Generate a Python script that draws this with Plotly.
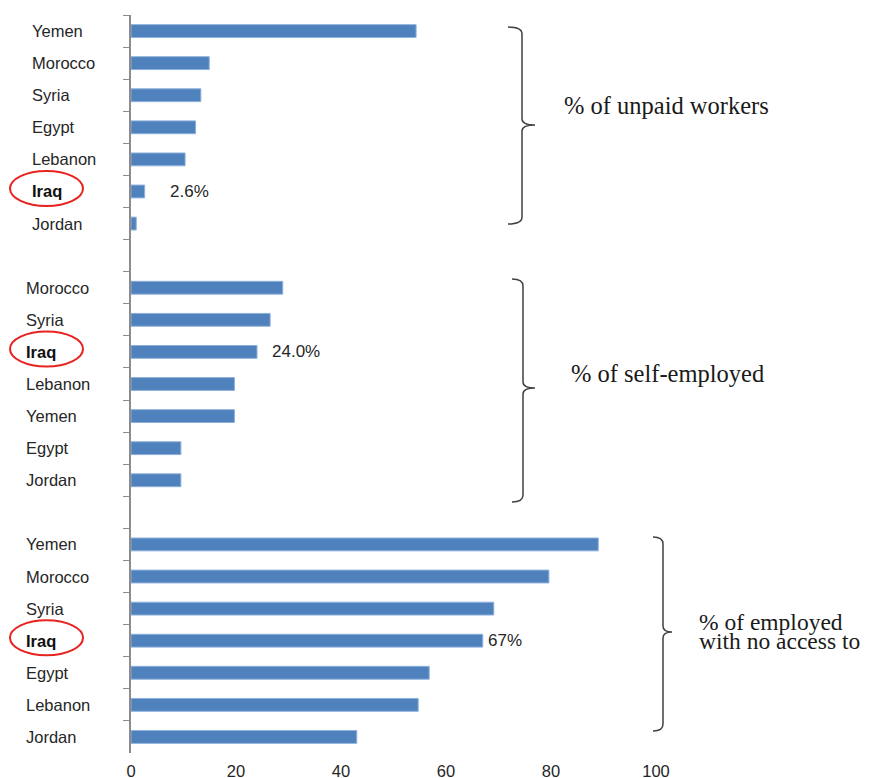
import plotly.graph_objects as go

# --- data -------------------------------------------------------------
unpaid_countries = ["Yemen", "Morocco", "Syria", "Egypt", "Lebanon", "Iraq", "Jordan"]
unpaid_values = [54.3, 14.9, 13.3, 12.3, 10.3, 2.6, 1.0]

self_countries = ["Morocco", "Syria", "Iraq", "Lebanon", "Yemen", "Egypt", "Jordan"]
self_values = [28.9, 26.5, 24.0, 19.7, 19.7, 9.5, 9.5]

noaccess_countries = ["Yemen", "Morocco", "Syria", "Iraq", "Egypt", "Lebanon", "Jordan"]
noaccess_values = [89.0, 79.6, 69.1, 67.0, 56.8, 54.7, 43.0]

group_titles = [["% of unpaid workers"], ["% of self-employed"],
                ["% of employed", "with no access to"]]
highlight_country = "Iraq"
highlight_labels = ["2.6%", "24.0%", "67%"]
x_ticks = [0, 20, 40, 60, 80, 100]

# --- page geometry (pixels) -------------------------------------------
W, H = 871, 778
L, R, T, B = 131, 215, 15, 25
PW, PH = W - L - R, H - T - B

def px(x):
    return (x - L) / PW

def py(y):
    return 1 - (y - T) / PH

BLUE = "#4F81BD"
TEXT = "#262626"

groups = [
    ("unpaid", unpaid_countries, unpaid_values),
    ("self", self_countries, self_values),
    ("noaccess", noaccess_countries, noaccess_values),
]

# category keys, top to bottom, with one empty slot between groups
order, xs, ys = [], [], []
for gi, (gid, countries, values) in enumerate(groups):
    if gi > 0:
        order.append(f"gap{gi}")
    for c, v in zip(countries, values):
        key = f"{gid}|{c}"
        order.append(key)
        ys.append(key)
        xs.append(v)

n_slots = len(order)
slot = PH / n_slots

def slot_center_px(key):
    return T + (order.index(key) + 0.5) * slot

fig = go.Figure(go.Bar(
    x=xs, y=ys, orientation="h",
    marker=dict(color=BLUE, line=dict(color="#8DB0DA", width=1)),
    width=0.4,
    hoverinfo="x+y",
))

annotations = []
shapes = []
label_x_px = [30, 24, 24]
label_shift = [23, 13, 3]
# bracket geometry: (left hook x, spine x, tip x, top y, tip y, bottom y)
brackets = [
    (508, 522, 535, 27, 125, 224),
    (512, 523, 535, 279, 388, 502),
    (653, 663, 672, 537, 632, 731),
]
title_pos = [(562, [105]), (569, [373]), (697, [622, 641])]
title_size = [24.5, 24.5, 23.5]

for gi, (gid, countries, values) in enumerate(groups):
    # country names, left aligned
    for c in countries:
        key = f"{gid}|{c}"
        annotations.append(dict(
            xref="paper", yref="paper", x=px(label_x_px[gi]),
            y=py(slot_center_px(key)), xanchor="left", yanchor="middle",
            text=f"<b>{c}</b>" if c == highlight_country else c,
            showarrow=False,
            font=dict(family="Liberation Sans, Arial", size=16.5,
                      color="#111" if c == highlight_country else TEXT),
        ))
    # value label for the highlighted country
    hi = countries.index(highlight_country)
    hkey = f"{gid}|{highlight_country}"
    annotations.append(dict(
        xref="x", yref="y", x=values[hi], y=hkey, xanchor="left",
        yanchor="middle", xshift=label_shift[gi], text=highlight_labels[gi],
        showarrow=False,
        font=dict(family="Liberation Sans, Arial", size=17, color=TEXT),
    ))
    # red ellipse round the highlighted name
    cy = slot_center_px(hkey) - 3
    shapes.append(dict(
        type="circle", xref="paper", yref="paper",
        x0=px(10), x1=px(83), y0=py(cy - 17.5), y1=py(cy + 17.5),
        line=dict(color="#E8231F", width=2),
    ))
    # curly bracket spanning the group
    x0, x1, x2, top, mid, bot = brackets[gi]
    pts = [
        f"M{px(x0)},{py(top)}",
        f"Q{px(x1)},{py(top)} {px(x1)},{py(top + 7)}",
        f"L{px(x1)},{py(mid - 6)}",
        f"Q{px(x1)},{py(mid)} {px(x2)},{py(mid)}",
        f"Q{px(x1)},{py(mid)} {px(x1)},{py(mid + 6)}",
        f"L{px(x1)},{py(bot - 7)}",
        f"Q{px(x1)},{py(bot)} {px(x0)},{py(bot)}",
    ]
    shapes.append(dict(type="path", xref="paper", yref="paper",
                       path=" ".join(pts),
                       line=dict(color="#404040", width=1.5)))
    # group title
    tx, tys = title_pos[gi]
    for ln, ty in zip(group_titles[gi], tys):
        annotations.append(dict(
            xref="paper", yref="paper", x=px(tx), y=py(ty),
            xanchor="left", yanchor="middle", text=ln, showarrow=False,
            font=dict(family="Liberation Serif, Times New Roman",
                      size=title_size[gi], color="#1a1a1a"),
        ))

fig.update_layout(
    width=W, height=H,
    margin=dict(l=L, r=R, t=T, b=B, pad=0),
    paper_bgcolor="white", plot_bgcolor="white",
    showlegend=False,
    bargap=0.6,
    annotations=annotations,
    shapes=shapes,
    xaxis=dict(
        range=[0, 100], tickvals=x_ticks, showgrid=False, zeroline=False,
        showline=False, ticks="", ticklabelstandoff=6, automargin=False,
        tickfont=dict(family="Liberation Sans, Arial", size=16.5, color=TEXT),
        fixedrange=True,
    ),
    yaxis=dict(
        type="category", categoryorder="array", categoryarray=order,
        range=[n_slots - 0.5, -0.5], automargin=False,
        showticklabels=False, showgrid=False, zeroline=False,
        showline=True, linecolor="#8C8C8C", linewidth=1.5,
        ticks="outside", tickson="boundaries", ticklen=6,
        tickcolor="#8C8C8C", tickwidth=1,
        fixedrange=True,
    ),
)

fig.write_html("out.html")
